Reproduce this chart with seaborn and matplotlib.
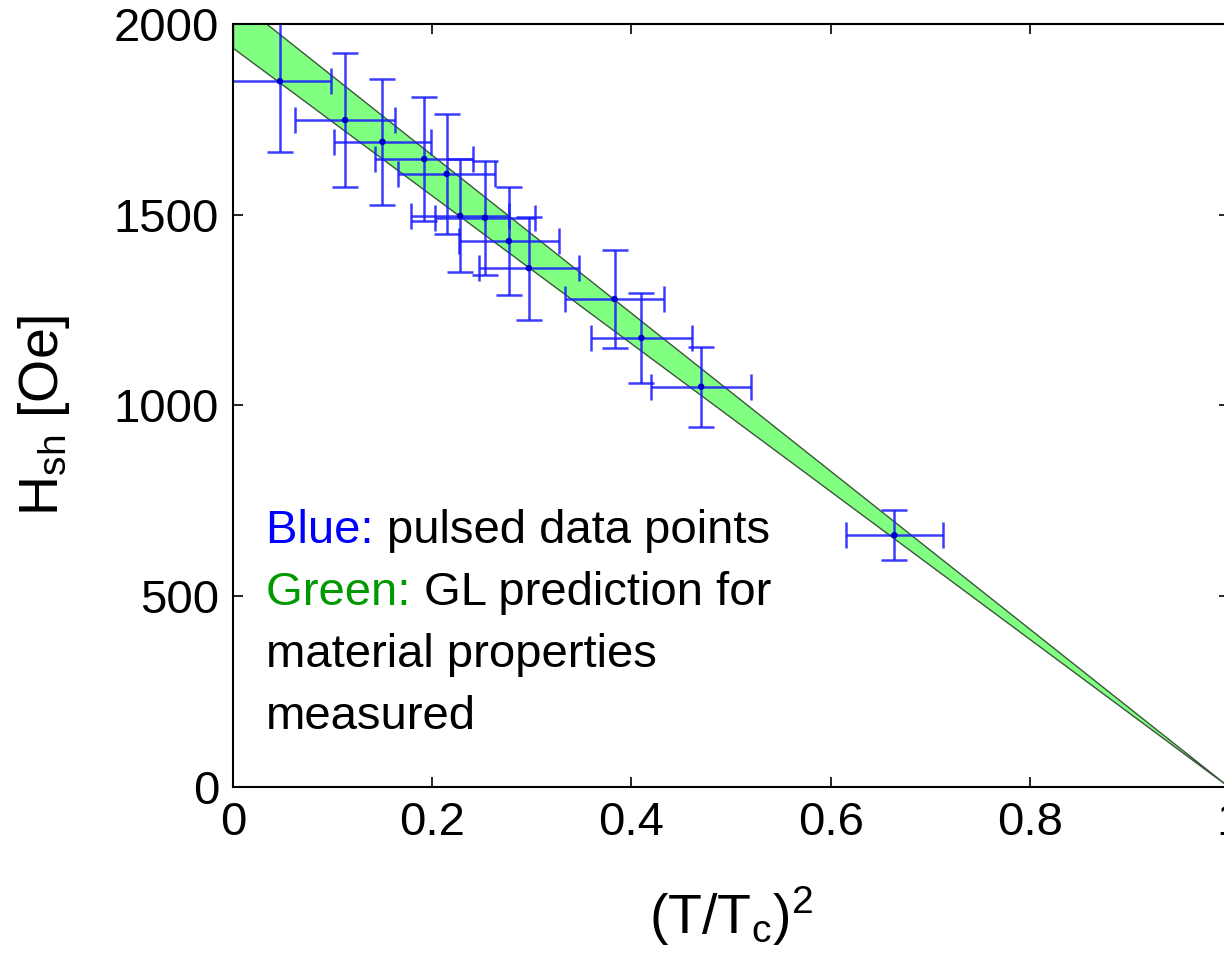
import numpy as np
import seaborn as sns
import matplotlib.pyplot as plt
import pandas as pd

# data
t_sq = [0.047, 0.1125, 0.150, 0.192, 0.2145, 0.228, 0.253, 0.277, 0.297, 0.383, 0.410, 0.470, 0.664]
h_sh = [1850, 1748, 1691, 1646, 1607, 1497, 1492, 1431, 1360, 1279, 1177, 1049, 660]
h_err = [185, 175, 166, 163, 158, 148, 150, 142, 135, 129, 117, 105, 65]
t_err = [0.051, 0.050, 0.049, 0.049, 0.049, 0.049, 0.050, 0.050, 0.050, 0.050, 0.051, 0.050, 0.049]

# GL prediction band (edges at T=0 and T=Tc)
band_x = [0.0, 1.0]
band_lo = [1937, 0]
band_hi = [2070, 0]

xticks = [0, 0.2, 0.4, 0.6, 0.8, 1]
xticklabels = ['0', '0.2', '0.4', '0.6', '0.8', '1']
yticks = [0, 500, 1000, 1500, 2000]

sns.set_theme(style="ticks")
plt.rcParams['font.family'] = ['Liberation Sans', 'DejaVu Sans']
plt.rcParams['mathtext.fontset'] = 'custom'
plt.rcParams['mathtext.rm'] = 'Liberation Sans'
plt.rcParams['mathtext.it'] = 'Liberation Sans'

df = pd.DataFrame({'t': t_sq, 'h': h_sh})

fig = plt.figure(figsize=(12.24, 9.58), dpi=100)
ax = fig.add_axes([0.1904, 0.1785, 0.8137, 0.7965])

ax.fill_between(band_x, band_lo, band_hi, facecolor='#80ff80',
                edgecolor='#3c553c', linewidth=1.0, zorder=1)

ax.errorbar(t_sq, h_sh, xerr=t_err, yerr=h_err, fmt='none', ecolor='#1a1aff',
            elinewidth=1.8, capsize=9.5, capthick=1.8, alpha=0.85, zorder=2)
sns.scatterplot(data=df, x='t', y='h', ax=ax, color='#0000cc', s=22,
                edgecolor='none', zorder=3, legend=False)

ax.set_xlim(0, 1)
ax.set_ylim(0, 2000)
ax.set_xticks(xticks)
ax.set_xticklabels(xticklabels)
ax.set_yticks(yticks)
ax.tick_params(direction='in', length=7, width=1.2, top=True, right=True,
               labelsize=34, pad=10, colors='black')
for s in ax.spines.values():
    s.set_linewidth(1.5)
    s.set_color('black')

ax.set_xlabel(r'(T/T$_{\mathregular{c}}$)$^{\mathregular{2}}$', fontsize=40, color='black')
ax.set_ylabel(r'H$_{\mathregular{sh}}$ [Oe]', fontsize=40, color='black')
ax.xaxis.set_label_coords(0.5, -0.128)
ax.yaxis.set_label_coords(-0.162, 0.487)

# annotation with coloured lead words
fig.canvas.draw()
renderer = fig.canvas.get_renderer()
lines = [('Blue: ', '#0000ff', 'pulsed data points'),
         ('Green: ', '#009900', 'GL prediction for'),
         ('', None, 'material properties'),
         ('', None, 'measured')]
x0, y0, dy = 0.033, 640, 162.5
for i, (lead, col, rest) in enumerate(lines):
    y = y0 - i * dy
    xx = x0
    if lead:
        t = ax.text(xx, y, lead, color=col, fontsize=34, va='baseline', ha='left')
        bb = t.get_window_extent(renderer=renderer)
        xx = ax.transData.inverted().transform((bb.x1, bb.y0))[0]
    ax.text(xx, y, rest, color='black', fontsize=34, va='baseline', ha='left')

fig.savefig('out.png', dpi=100)
